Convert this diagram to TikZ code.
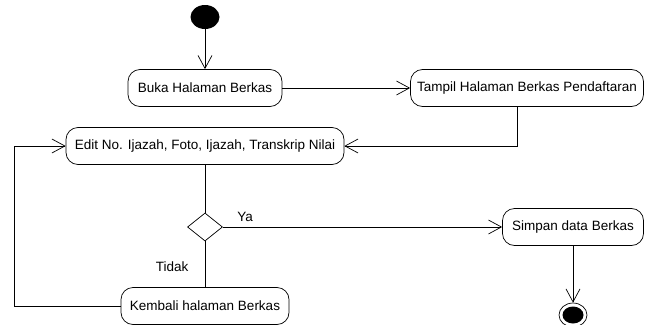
\documentclass[tikz,border=0pt]{standalone}
\usepackage{fontspec}
\setmainfont{Liberation Sans}
\usetikzlibrary{arrows.meta,positioning,shapes.geometric}

\begin{document}
\begin{tikzpicture}[x=1pt, y=1pt, line width=0.7pt, >={Straight Barb[length=13pt,width=14pt]}, on grid, auto,
    font=\fontsize{13.5}{16}\selectfont,
    act/.style={draw, rounded corners=12pt, minimum height=37pt, inner sep=2pt},
    decision/.style={diamond, draw, minimum width=35pt, minimum height=28pt, inner sep=0pt},
    initnode/.style={ellipse, fill, minimum width=29pt, minimum height=24pt, inner sep=0pt},
    finalnode/.style={ellipse, draw, minimum width=28pt, minimum height=24pt, inner sep=0pt,
      path picture={\fill (path picture bounding box.center) ellipse (10.5pt and 8.5pt);}}]
   \useasboundingbox (0,0) rectangle (645,-324);
   \node[act, minimum width=154pt] (buka)   at (205,-88)         {Buka Halaman Berkas};
   \node[initnode]                 (init)   [above=71pt of buka]  {};
   \node[act, minimum width=233pt] (tampil) [right=322pt of buka] {Tampil Halaman Berkas Pendaftaran};
   \node[act, minimum width=278pt] (edit)   [below=58pt of buka]  {Edit No. Ijazah, Foto, Ijazah, Transkrip Nilai};
   \node[decision]                 (d_1)    [below=81pt of edit]  {};
   \node[act, minimum width=141pt] (simpan) [right=368pt of d_1]  {Simpan data Berkas};
   \node[act, minimum width=168pt] (kembali)[below=79pt of d_1]   {Kembali halaman Berkas};
   \node[finalnode]                (final)  [below=88pt of simpan] {};
   \coordinate[left=191pt of edit] (back);
   \path (init)   edge [->] (buka)
         (buka)   edge [->] (tampil)
         (edit)   edge      (d_1)
         (d_1)    edge [->] node [pos=0.08, above=2pt] {Ya} (simpan)
         (d_1)    edge      node [pos=0.55, left=13pt] {Tidak} (kembali)
         (simpan) edge [->] (final);
   \draw[->] ([xshift=-10pt]tampil.south) |- (edit);
   \draw[->] (kembali) -| (back) -- (edit);
\end{tikzpicture}
\end{document}
